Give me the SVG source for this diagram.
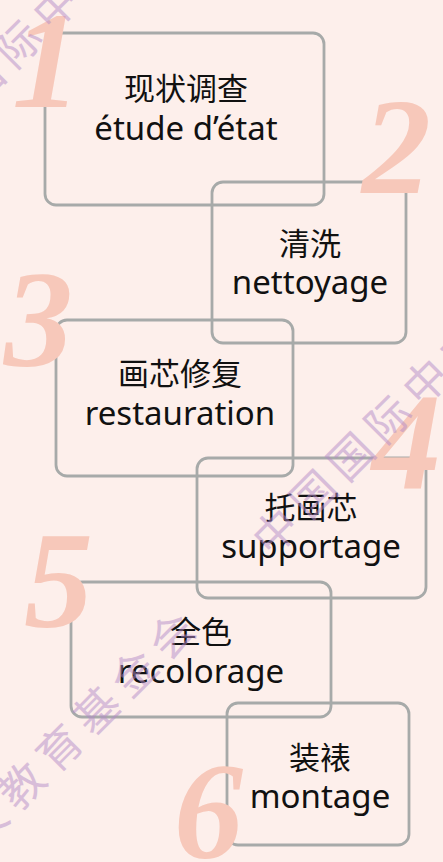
<svg xmlns="http://www.w3.org/2000/svg" width="443" height="862" viewBox="0 0 443 862">
<style>
.box{fill:none;stroke:#a7aaa9;stroke-width:2.8}
.num{font-family:"Liberation Serif",serif;font-style:italic;font-weight:bold;font-size:138px;fill:#f7c8ba}
.zh{font-family:"Noto Sans CJK SC",sans-serif;font-size:31px;fill:#111;text-anchor:middle}
.fr{font-family:"Noto Sans","Noto Sans CJK SC",sans-serif;font-size:33px;fill:#111;text-anchor:middle}
.wm{font-family:"Noto Sans CJK SC",sans-serif;font-size:44px;letter-spacing:9px;fill:#b48cc8;opacity:0.5}
</style>
<rect width="443" height="862" fill="#fdefeb"/>
<g id="step1">
<rect class="box" x="45" y="33" width="279" height="172" rx="11"/>
<text class="num" x="12" y="107">1</text>
<text class="zh" x="186" y="100">现状调查</text>
<text class="fr" x="186" y="140">étude d’état</text>
</g>
<g id="step2">
<rect class="box" x="212" y="182" width="194" height="161" rx="11"/>
<text class="num" x="362" y="193">2</text>
<text class="zh" x="310" y="255">清洗</text>
<text class="fr" x="310" y="294">nettoyage</text>
</g>
<g id="step3">
<rect class="box" x="56" y="320" width="237" height="156" rx="11"/>
<text class="num" x="4" y="366">3</text>
<text class="zh" x="180" y="385">画芯修复</text>
<text class="fr" x="180" y="425">restauration</text>
</g>
<g id="step4">
<rect class="box" x="197" y="458" width="229" height="140" rx="11"/>
<text class="num" x="372" y="489">4</text>
<text class="zh" x="311" y="519">托画芯</text>
<text class="fr" x="311" y="558">supportage</text>
</g>
<g id="step5">
<rect class="box" x="71" y="582" width="260" height="135" rx="11"/>
<text class="num" x="24" y="627">5</text>
<text class="zh" x="201" y="643">全色</text>
<text class="fr" x="201" y="683">recolorage</text>
</g>
<g id="step6">
<rect class="box" x="227" y="703" width="182" height="142" rx="11"/>
<text class="num" x="174" y="858">6</text>
<text class="zh" x="320" y="769">装裱</text>
<text class="fr" x="320" y="808">montage</text>
</g>
<g id="watermark">
<text class="wm" transform="rotate(-45)" x="-199" y="60">中国国际中文教育基金会</text>
<text class="wm" transform="rotate(-45)" x="-203" y="587">中国国际中文教育基金会</text>
<text class="wm" transform="rotate(-45)" x="-880" y="587">中国国际中文教育基金会</text>
</g>
</svg>
